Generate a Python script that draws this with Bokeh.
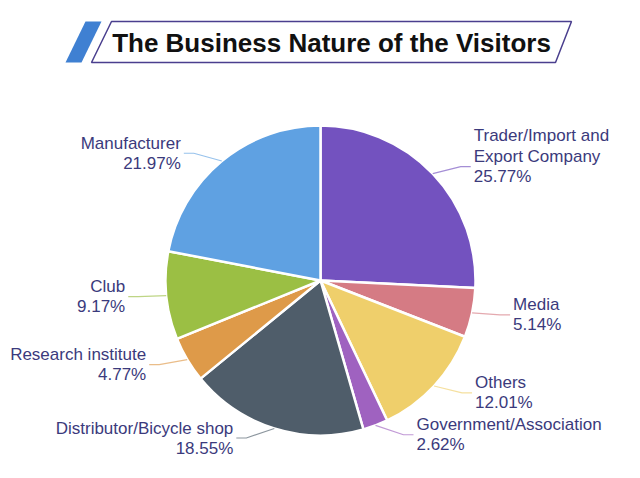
import math
from bokeh.plotting import figure
from bokeh.models import Range1d
from bokeh.embed import file_html
from bokeh.resources import INLINE
from bokeh.core.properties import value

# ---- data ----
categories = ["Trader/Import and\nExport Company", "Media", "Others",
              "Government/Association", "Distributor/Bicycle shop",
              "Research institute", "Club", "Manufacturer"]
shares = [25.77, 5.14, 12.01, 2.62, 18.55, 4.77, 9.17, 21.97]
colors = ["#7352bf", "#d57b84", "#efcf6b", "#9f62c0",
          "#4f5d6a", "#de9a49", "#9bbf44", "#5fa1e2"]
title_text = "The Business Nature of the Visitors"

# ---- layout / style ----
W, H = 624, 462
LABEL_COLOR = "#3b3a7c"
FONT = "Liberation Sans"

def px(x, y):  # screenshot pixel -> data coords
    return x, H - y

CX, CY = px(320, 280)
R = 155

p = figure(width=W, height=H, x_range=Range1d(0, W), y_range=Range1d(0, H),
           output_backend="svg", toolbar_location=None, min_border=0,
           x_axis_type=None, y_axis_type=None)
p.outline_line_color = None
p.background_fill_color = "white"
p.border_fill_color = "white"

# ---- title decoration ----
blue = [px(85, 21), px(101, 21), px(81, 62), px(65, 62)]
p.patch([a for a, b in blue], [b for a, b in blue], fill_color="#3f80d2", line_color=None)
box = [px(111, 21), px(571, 21), px(555, 62), px(91, 62)]
p.patch([a for a, b in box], [b for a, b in box], fill_color="white",
        line_color="#4a3f8e", line_width=1.5)
tx, ty = px(331, 42)
p.text([tx], [ty], text=[title_text], text_align="center", text_baseline="middle",
       text_font=value(FONT), text_font_style="bold", text_font_size="26px",
       text_color="#111111")

# ---- pie ----
total = sum(shares)
starts, ends, mids = [], [], []
cum = 0.0
for v in shares:
    f0 = cum / total
    cum += v
    f1 = cum / total
    starts.append(math.pi / 2 - f0 * 2 * math.pi)
    ends.append(math.pi / 2 - f1 * 2 * math.pi)
    mids.append((f0 + f1) / 2 * 2 * math.pi)  # clockwise from top

p.wedge(x=[CX] * len(shares), y=[CY] * len(shares), radius=R,
        start_angle=starts, end_angle=ends, direction="clock",
        fill_color=colors, line_color="white", line_width=2.5)

# ---- leader lines & labels ----
xs, ys, lcols = [], [], []
left = dict(x=[], y=[], t=[])
right = dict(x=[], y=[], t=[])
for name, v, col, th in zip(categories, shares, colors, mids):
    s, c = math.sin(th), math.cos(th)
    side = 1 if s >= 0 else -1
    x0, y0 = CX + R * s, CY + R * c
    x1, y1 = x0 + side * 28, y0 + 10 * c
    x2, y2 = x1 + side * 10, y1
    xs.append([x0, x1, x2]); ys.append([y0, y1, y2]); lcols.append(col)
    lines = name.split("\n")
    tgt = right if side > 0 else left
    txx = x2 + side * 3
    tgt["x"].append(txx); tgt["y"].append(y2 - 10); tgt["t"].append(f"{v:.2f}%")
    for k, ln in enumerate(reversed(lines)):
        tgt["x"].append(txx); tgt["y"].append(y2 + 10 + 21 * k); tgt["t"].append(ln)

p.multi_line(xs, ys, line_color=lcols, line_alpha=0.65, line_width=1.2)
for d, al in ((left, "right"), (right, "left")):
    p.text(d["x"], d["y"], text=d["t"], text_align=al, text_baseline="middle",
           text_font=value(FONT), text_font_size="17px", text_color=LABEL_COLOR)

open("out.html", "w").write(file_html(p, INLINE))
